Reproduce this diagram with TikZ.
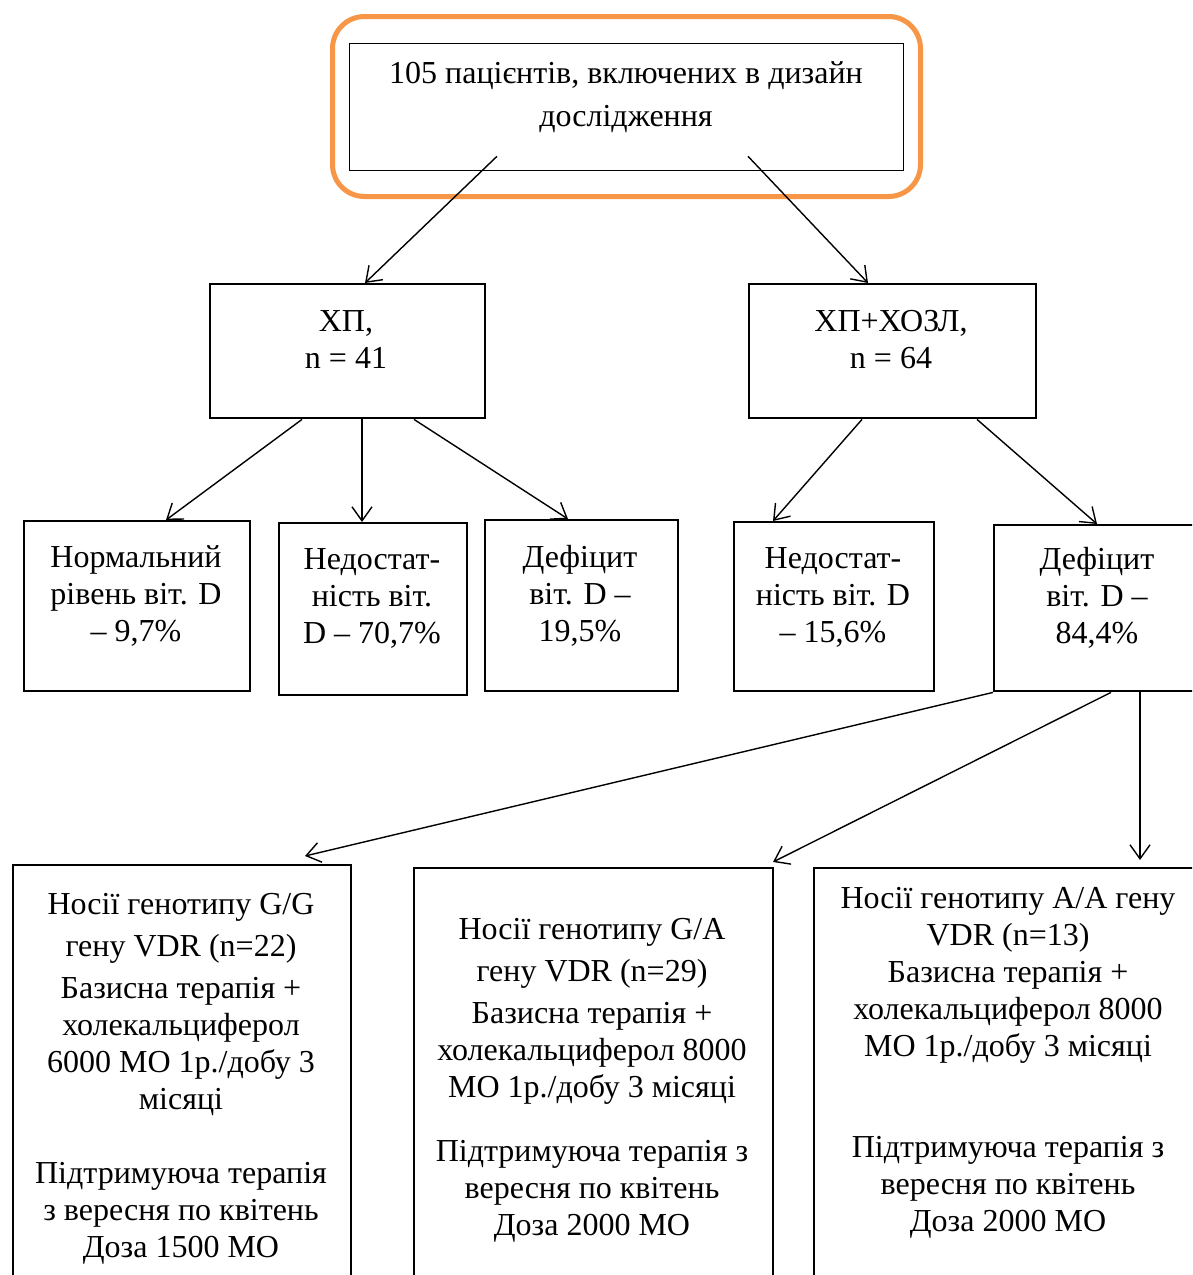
\documentclass[tikz,border=0pt]{standalone}
\usepackage{fontspec}
\setmainfont{Liberation Serif}
\usetikzlibrary{arrows.meta,calc}
\definecolor{frameor}{RGB}{247,150,70}
\begin{document}
\begin{tikzpicture}[x=1pt,y=-1pt,
  box/.style={draw, line width=2.4pt, inner sep=0pt, anchor=north west},
  txt/.style={align=center, inner sep=0pt, anchor=north, font=\fontsize{32}{37}\selectfont},
  arr/.style={line width=1.4pt, -{Straight Barb[length=14pt,width=20pt,line width=1.4pt]}}]
\clip (0,0) rectangle (1192,1275);
\fill[white] (0,0) rectangle (1192,1275);
\newcommand{\fs}{\rule{0pt}{24pt}}
% top frame
\node[draw=frameor, line width=5pt, rounded corners=32pt, inner sep=0pt, anchor=north west,
      minimum width=588pt, minimum height=180pt] (frame) at (330,14) {};
\node[draw, line width=1.3pt, inner sep=0pt, anchor=north west,
      minimum width=554pt, minimum height=127pt] (top) at (349,43) {};
\node[txt] (toptxt) at (626,59) {\fs105 пацієнтів, включених в дизайн\\[6pt]дослідження};
% second row
\node[box, minimum width=275pt, minimum height=134pt] (xp) at (209,283) {};
\node[txt] (xptxt) at (346,307) {\fs ХП,\\n = 41};
\node[box, minimum width=287pt, minimum height=134pt] (xh) at (748,283) {};
\node[txt] (xhtxt) at (891,307) {\fs ХП+ХОЗЛ,\\n = 64};
% third row
\node[box, minimum width=226pt, minimum height=170pt] (b1) at (23,520) {};
\node[txt] (b1t) at (136,543) {\fs Нормальний\\рівень віт. D\\– 9,7\%};
\node[box, minimum width=188pt, minimum height=172pt] (b2) at (278,522) {};
\node[txt] (b2t) at (372,545) {\fs Недостат-\\ність віт.\\D – 70,7\%};
\node[box, minimum width=193pt, minimum height=171pt] (b3) at (484,519) {};
\node[txt] (b3t) at (580,543) {\fs Дефіцит\\віт. D –\\19,5\%};
\node[box, minimum width=200pt, minimum height=169pt] (b4) at (733,521) {};
\node[txt] (b4t) at (833,544) {\fs Недостат-\\ність віт. D\\– 15,6\%};
\node[box, minimum width=208pt, minimum height=166pt] (b5) at (993,524) {};
\node[txt] (b5t) at (1097,545) {\fs Дефіцит\\віт. D –\\84,4\%};
% bottom row
\node[box, minimum width=338pt, minimum height=440pt] (c1) at (12,864) {};
\node[txt] (c1t) at (181,890) {\fs Носії генотипу G/G\\[5pt]гену VDR (n=22)\\[5pt]Базисна терапія +\\холекальциферол\\6000 МО 1р./добу 3\\місяці\\[37pt]Підтримуюча терапія\\з вересня по квітень\\Доза 1500 МО};
\node[box, minimum width=359pt, minimum height=440pt] (c2) at (413,867) {};
\node[txt] (c2t) at (592,915) {\fs Носії генотипу G/A\\[5pt]гену VDR (n=29)\\[5pt]Базисна терапія +\\холекальциферол 8000\\МО 1р./добу 3 місяці\\[27pt]Підтримуюча терапія з\\вересня по квітень\\Доза 2000 МО};
\node[box, minimum width=390pt, minimum height=440pt] (c3) at (813,867) {};
\node[txt] (c3t) at (1008,884) {\fs Носії генотипу А/А гену\\VDR (n=13)\\Базисна терапія +\\холекальциферол 8000\\МО 1р./добу 3 місяці\\[64pt]Підтримуюча терапія з\\вересня по квітень\\Доза 2000 МО};
% connectors
\draw[arr] ($(top.south west)+(148,-15)$) -- ($(xp.north west)+(156,0)$);
\draw[arr] ($(top.south west)+(399,-15)$) -- ($(xh.north west)+(120,0)$);
\draw[arr] ($(xp.south west)+(93,0)$) -- ($(b1.north west)+(143,0)$);
\draw[arr] ($(xp.south west)+(153,0)$) -- ($(b2.north west)+(84,0)$);
\draw[arr] ($(xp.south west)+(205,0)$) -- ($(b3.north west)+(84,0)$);
\draw[arr] ($(xh.south west)+(114,0)$) -- ($(b4.north west)+(40,0)$);
\draw[arr] ($(xh.south west)+(229,0)$) -- ($(b5.north west)+(104,0)$);
\draw[arr] (b5.south west) -- ($(c1.north west)+(293,-8)$);
\draw[arr] ($(b5.south west)+(118,0)$) -- ($(c2.north west)+(360,-5)$);
\draw[arr] ($(b5.south west)+(147,0)$) -- ($(c3.north west)+(327,-7)$);
\end{tikzpicture}
\end{document}
